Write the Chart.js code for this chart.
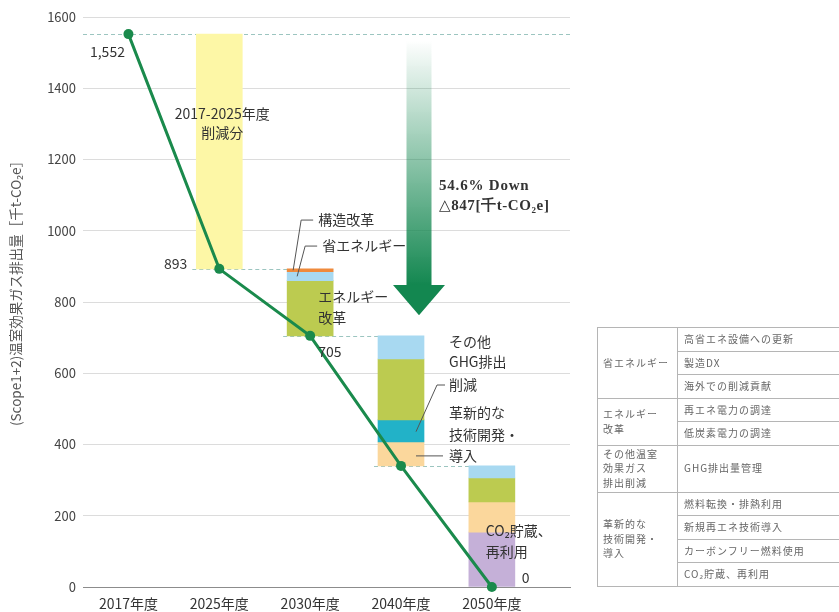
<!DOCTYPE html>
<html><head><meta charset="utf-8">
<script src="https://cdn.jsdelivr.net/npm/chart.js@4.4.1/dist/chart.umd.min.js"></script>
<style>
html,body{margin:0;padding:0;background:#fff;}
#wrap{position:relative;width:839px;height:612px;overflow:hidden;}
#c{position:absolute;left:0;top:0;}
#tbl{position:absolute;left:597px;top:327px;border-collapse:collapse;table-layout:fixed;width:340px;font-family:"Noto Sans CJK JP","Noto Sans",sans-serif;font-size:10px;color:#666;letter-spacing:1px;}
#tbl td{border:1px solid #b5b5b5;padding:0 0 0 5px;line-height:14.5px;vertical-align:middle;white-space:nowrap;overflow:hidden;}
#tbl tr{height:23.5px;}
</style></head>
<body>
<div id="wrap">
<canvas id="c" width="839" height="612"></canvas>
<table id="tbl"><colgroup><col style="width:80px"><col style="width:260px"></colgroup><tbody id="tb"></tbody></table>
</div>
<script>
// ---- data ----
const categories = ['2017年度', '2025年度', '2030年度', '2040年度', '2050年度'];
const emissions = [1552, 893, 705, 340, 0];
const emissionLabels = ['1,552', '893', '705', '', '0'];
const yTicks = [0, 200, 400, 600, 800, 1000, 1200, 1400, 1600];
// reduction components (千t-CO2e), stacked downward from previous year's total
const cut2017to2025 = [0, 659, 0, 0, 0];
const cutStructural = [0, 0, 8, 0, 0];
const cutEnergySaving = [0, 0, 25, 65, 34];
const cutEnergyReform = [0, 0, 155, 171, 67];
const cutOtherGHG = [0, 0, 0, 62, 0];
const cutInnovation = [0, 0, 0, 67, 85];
const cutCCUS = [0, 0, 0, 0, 154];
const yTitle = '(Scope1+2)温室効果ガス排出量［千t-CO₂e］';
// table
const groupNames = ['省エネルギー', 'エネルギー<br>改革', 'その他温室<br>効果ガス<br>排出削減', '革新的な<br>技術開発・<br>導入'];
const groupItems = [
  ['高省エネ設備への更新', '製造DX', '海外での削減貢献'],
  ['再エネ電力の調達', '低炭素電力の調達'],
  ['GHG排出量管理'],
  ['燃料転換・排熱利用', '新規再エネ技術導入', 'カーボンフリー燃料使用', 'CO₂貯蔵、再利用']
];

// ---- table ----
(function(){
  const t = document.getElementById('tb');
  let html = '';
  groupItems.forEach((items, g) => {
    items.forEach((it, k) => {
      const big = items.length === 1;
      html += '<tr' + (big ? ' style="height:47px"' : '') + '>';
      if (k === 0) html += '<td rowspan="' + items.length + '">' + groupNames[g] + '</td>';
      html += '<td style="padding-left:6px">' + it + '</td></tr>';
    });
  });
  t.innerHTML = html;
})();

// ---- bars ----
const segments = [
  {label: '2017-2025削減分', values: cut2017to2025, color: '#fdf7a6'},
  {label: '構造改革', values: cutStructural, color: '#ef8a3c'},
  {label: '省エネルギー', values: cutEnergySaving, color: '#a8d9f1'},
  {label: 'エネルギー改革', values: cutEnergyReform, color: '#bccb50'},
  {label: 'その他GHG排出削減', values: cutOtherGHG, color: '#22b2c8'},
  {label: '革新的な技術開発・導入', values: cutInnovation, color: '#fbd79c'},
  {label: 'CO2貯蔵、再利用', values: cutCCUS, color: '#c5b0d8'}
];
const running = emissions.map((v, i) => i === 0 ? 0 : emissions[i - 1]);
const BAR_W = 46;
const barDatasets = segments.map(s => {
  const data = [];
  s.values.forEach((amt, i) => {
    if (!amt) return;
    const hi = running[i];
    const lo = hi - amt;
    running[i] = lo;
    data.push({x: i, y: [lo, hi]});
  });
  return {type: 'bar', label: s.label, data, backgroundColor: s.color, borderWidth: 0,
          barThickness: BAR_W, order: 1};
});

const lineDataset = {
  type: 'line', label: '排出量', data: emissions.map((v, i) => ({x: i, y: v})),
  borderColor: '#1a8a4c', borderWidth: 3, pointRadius: 5, pointBackgroundColor: '#1a8a4c',
  pointBorderWidth: 0, tension: 0, order: 0, clip: false
};

const JP = '"Noto Sans CJK JP", "Noto Sans", sans-serif';

const annot = {
  id: 'annot',
  beforeDatasetsDraw(chart) {
    const {ctx, chartArea, scales: {x, y}} = chart;
    ctx.save();
    ctx.setLineDash([4, 3]);
    ctx.strokeStyle = '#9cc5c0';
    ctx.lineWidth = 1;
    const hl = (x1, x2, yy) => { ctx.beginPath(); ctx.moveTo(x1, yy + 0.5); ctx.lineTo(x2, yy + 0.5); ctx.stroke(); };
    hl(chartArea.left, chartArea.right, Math.round(y.getPixelForValue(emissions[0])));
    for (let i = 1; i <= 3; i++) {
      hl(x.getPixelForValue(i) - BAR_W / 2 - 4, x.getPixelForValue(i + 1) + BAR_W / 2,
         Math.round(y.getPixelForValue(emissions[i])));
    }
    ctx.restore();
  },
  afterDatasetsDraw(chart) {
    const {ctx, chartArea, scales: {x, y}} = chart;
    const X = v => x.getPixelForValue(v), Y = v => y.getPixelForValue(v);
    ctx.save();
    // y-axis title
    ctx.save();
    ctx.translate(16, (chartArea.top + chartArea.bottom) / 2 - 12);
    ctx.rotate(-Math.PI / 2);
    ctx.font = '13.5px ' + JP;
    ctx.fillStyle = '#555';
    ctx.textAlign = 'center';
    ctx.textBaseline = 'middle';
    ctx.fillText(yTitle, 0, 0);
    ctx.restore();

    // arrow
    const ax = X(3) + 18, aTop = Y(1535), aHead = Y(848), aTip = Y(763);
    const g = ctx.createLinearGradient(0, aTop, 0, aHead);
    g.addColorStop(0, 'rgba(22,136,82,0)');
    g.addColorStop(0.45, 'rgba(22,136,82,0.45)');
    g.addColorStop(1, 'rgba(19,135,80,1)');
    ctx.fillStyle = g;
    ctx.beginPath();
    ctx.moveTo(ax - 12.5, aTop);
    ctx.lineTo(ax + 12.5, aTop);
    ctx.lineTo(ax + 12.5, aHead);
    ctx.lineTo(ax + 26, aHead);
    ctx.lineTo(ax, aTip);
    ctx.lineTo(ax - 26, aHead);
    ctx.lineTo(ax - 12.5, aHead);
    ctx.closePath();
    ctx.fill();

    // leader lines
    ctx.strokeStyle = '#555';
    ctx.lineWidth = 1;
    const pl = pts => { ctx.beginPath(); pts.forEach((p, k) => k ? ctx.lineTo(p[0], p[1]) : ctx.moveTo(p[0], p[1])); ctx.stroke(); };
    pl([[X(2) - 17, Y(889)], [X(2) - 9, Y(1030)], [X(2) + 3, Y(1030)]]);
    pl([[X(2) - 13, Y(872)], [X(2) - 5, Y(957)], [X(2) + 7, Y(957)]]);
    pl([[X(3) + 44, Y(567)], [X(3) + 36, Y(567)], [X(3) + 15, Y(436)]]);
    pl([[X(3) + 15, Y(368)], [X(3) + 42, Y(368)]]);

    // texts
    ctx.fillStyle = '#333';
    ctx.textBaseline = 'middle';
    const T = (s, px, py, align, font, ls) => {
      ctx.font = font || ('14px ' + JP); ctx.textAlign = align || 'left';
      ctx.letterSpacing = ls || '0px';
      ctx.fillText(s, px, py);
      ctx.letterSpacing = '0px';
    };
    // value labels
    T(emissionLabels[0], X(0) - 21, Y(emissions[0]) + 18, 'center');
    T(emissionLabels[1], X(1) - 32, Y(emissions[1]) - 5, 'right');
    T(emissionLabels[2], X(2) + 8, Y(emissions[2]) + 16, 'left');
    T(emissionLabels[4], X(4) + 30, Y(emissions[4]) - 9, 'left');
    // 2025
    T('2017-2025年度', X(1) + 3, Y(1330), 'center');
    T('削減分', X(1) + 3, Y(1275), 'center');
    // 2030
    T('構造改革', X(2) + 8, Y(1030));
    T('省エネルギー', X(2) + 12, Y(957));
    T('エネルギー', X(2) + 8, Y(814));
    T('改革', X(2) + 8, Y(755));
    // arrow text
    const serif = 'bold 15px "Liberation Serif", "DejaVu Serif", serif';
    T('54.6% Down', X(3) + 38, Y(1125), 'left', serif, '0.8px');
    T('△847[千t-CO₂e]', X(3) + 38, Y(1070), 'left', serif, '0.6px');
    // 2040
    T('その他', X(3) + 48, Y(690));
    T('GHG排出', X(3) + 48, Y(632));
    T('削減', X(3) + 48, Y(567));
    T('革新的な', X(3) + 48, Y(488));
    T('技術開発・', X(3) + 48, Y(427));
    T('導入', X(3) + 48, Y(368));
    // 2050
    T('CO₂貯蔵、', X(4) - 6, Y(157));
    T('再利用', X(4) - 6, Y(98));
    ctx.restore();
  }
};

new Chart(document.getElementById('c'), {
  type: 'bar',
  data: {datasets: [lineDataset, ...barDatasets]},
  options: {
    responsive: false,
    animation: false,
    layout: {padding: {top: 17, right: 269, bottom: 0, left: 0}},
    plugins: {legend: {display: false}, tooltip: {enabled: false}},
    scales: {
      x: {
        type: 'linear', min: -0.5, max: 4.86, offset: false, stacked: true,
        grid: {display: false, drawTicks: false},
        border: {display: true, color: '#8c8c8c', width: 1},
        afterBuildTicks: ax => { ax.ticks = categories.map((c, i) => ({value: i})); },
        ticks: {callback: v => categories[v], padding: 8, color: '#333', autoSkip: false, maxRotation: 0,
                font: {size: 14, family: JP}},
        afterFit: ax => { ax.height = 25; }
      },
      y: {
        min: 0, max: 1600, stacked: false,
        afterBuildTicks: ax => { ax.ticks = yTicks.map(v => ({value: v})); },
        ticks: {padding: 7, color: '#444', font: {size: 13, family: JP}, callback: v => String(v)},
        grid: {color: '#dcdcdc', drawTicks: false},
        border: {display: false},
        afterFit: ax => { ax.width = 83; }
      }
    }
  },
  plugins: [annot]
});
</script>
</body></html>
